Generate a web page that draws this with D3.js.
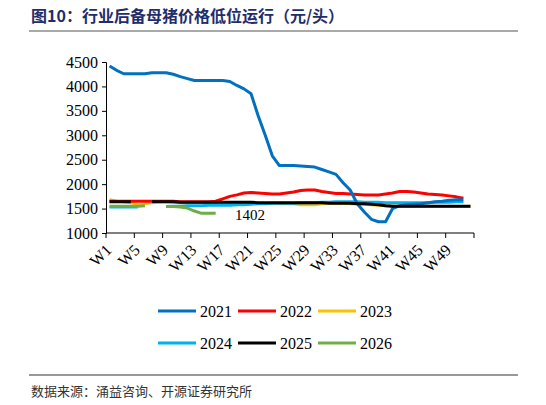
<!DOCTYPE html>
<html><head><meta charset="utf-8">
<script src="https://cdn.jsdelivr.net/npm/d3@7"></script>
<style>body{margin:0;background:#fff}</style></head>
<body><svg id="c" width="546" height="405"></svg>
<script>
const weeks = d3.range(1,53).map(i=>"W"+i);
const tickLabels = ["W1","W5","W9","W13","W17","W21","W25","W29","W33","W37","W41","W45","W49"];
const yTicks = [1000,1500,2000,2500,3000,3500,4000,4500];
const s2021 = [4420,4330,4260,4260,4260,4260,4280,4280,4280,4250,4200,4160,4120,4120,4120,4120,4120,4100,4020,3950,3850,3400,3000,2580,2380,2380,2380,2370,2360,2350,2300,2250,2200,2030,1880,1600,1430,1280,1230,1230,1500,1560,1580,1590,1600,1620,1640,1650,1670,1680,1680,null];
const s2022 = [1650,1650,1650,1650,1650,1650,1650,1650,1650,1650,1640,1640,1640,1640,1640,1650,1700,1750,1780,1820,1830,1820,1810,1800,1800,1820,1840,1870,1880,1880,1850,1830,1810,1810,1800,1790,1780,1780,1780,1800,1820,1850,1850,1840,1820,1800,1790,1780,1760,1740,1710,null];
const s2023 = [1680,1650,1640,1620,1580,1600,1630,1640,1640,1630,1620,1620,1620,1620,1620,1620,1620,1620,1620,1620,1610,1610,1610,1610,1600,1600,1600,1580,1580,1580,1600,1610,1610,1610,1600,1600,1590,1580,1570,1560,1550,1540,1540,1540,1540,1540,1540,1540,1540,1540,1540,1540];
const s2024 = [1530,1530,1530,1530,1530,null,null,null,1540,1550,1550,1560,1560,1560,1570,1570,1570,1570,1580,1580,1590,1600,1600,1610,1610,1610,1610,1620,1620,1620,1630,1630,1640,1640,1640,1640,1630,1630,1630,1620,1620,1620,1620,1620,1620,1620,1630,1630,1630,1640,1640,null];
const s2025 = [1640,1640,1640,1640,null,null,1640,1640,1640,1640,1630,1630,1630,1630,1630,1630,1630,1630,1630,1630,1630,1620,1620,1620,1620,1620,1620,1620,1620,1620,1620,1610,1610,1610,1610,1600,1600,1590,1580,1560,1550,1550,1550,1550,1550,1550,1550,1550,1550,1550,1550,1550];
const s2026 = [1550,1550,1550,1550,1550,1560,null,null,1540,1540,1530,1510,1450,1402,1402,1402,null,null,null,null,null,null,null,null,null,null,null,null,null,null,null,null,null,null,null,null,null,null,null,null,null,null,null,null,null,null,null,null,null,null,null,null];
const seriesNames = ["2021","2022","2023","2024","2025","2026"];
const seriesData = [s2021,s2022,s2023,s2024,s2025,s2026];
const colors = ["#0070C0","#FF0000","#FFC000","#00B0F0","#000000","#70AD47"];
const drawOrder = [2,3,1,0,5,4];

const svg = d3.select("#c");
const serif = "'Liberation Serif','Times New Roman',serif";
const cjk = "'Noto Sans CJK SC',sans-serif";

svg.append("text").attr("x",31).attr("y",22).attr("font-family",cjk).attr("font-weight","bold")
  .attr("font-size",16).attr("fill","#1F2D6B").text("图10：行业后备母猪价格低位运行（元/头）");
svg.append("line").attr("x1",29).attr("x2",518).attr("y1",31).attr("y2",31).attr("stroke","#555").attr("stroke-width",1.2);
svg.append("line").attr("x1",29).attr("x2",518).attr("y1",375).attr("y2",375).attr("stroke","#333").attr("stroke-width",1);
svg.append("text").attr("x",31).attr("y",396).attr("font-family",cjk).attr("font-size",13).attr("fill","#333")
  .text("数据来源：涌益咨询、开源证券研究所");

const x = d3.scaleBand().domain(weeks).range([106,474]);
const y = d3.scaleLinear().domain([1000,4500]).range([233,62]);

const ya = svg.append("g").attr("transform","translate(106,0)")
  .call(d3.axisLeft(y).tickValues(yTicks).tickSize(4).tickFormat(d3.format("d")));
ya.selectAll("text").attr("font-family",serif).attr("font-size",16).attr("fill","#000").attr("dx",-1);
ya.select(".domain").attr("stroke","#000");
ya.selectAll(".tick line").attr("stroke","#000");

const xg = svg.append("g");
xg.append("line").attr("x1",106).attr("x2",474).attr("y1",233).attr("y2",233).attr("stroke","#000");
const bnd = d3.range(0,52,4).map(i=>x(weeks[i]));
bnd.push(x.range()[1]);
xg.selectAll(".bt").data(bnd).join("line").attr("x1",d=>d).attr("x2",d=>d).attr("y1",233).attr("y2",238).attr("stroke","#000");
xg.selectAll(".lb").data(tickLabels).join("text")
  .attr("transform",d=>`translate(${x(d)+x.bandwidth()/2+3},${251}) rotate(-45)`)
  .attr("text-anchor","end").attr("font-family",serif).attr("font-size",16).attr("fill","#000").text(d=>d);

const line = d3.line().defined(d=>d.v!=null).x(d=>x(d.w)+x.bandwidth()/2).y(d=>y(d.v));
drawOrder.forEach(i=>{
  svg.append("path").datum(weeks.map((w,j)=>({w,v:seriesData[i][j]})))
    .attr("d",line).attr("fill","none").attr("stroke",colors[i]).attr("stroke-width",3).attr("stroke-linejoin","round");
});
svg.append("text").attr("x",235).attr("y",220).attr("font-family",serif).attr("font-size",15).text("1402");

const lx=[158,238,318], ly=[311,343];
seriesNames.forEach((n,i)=>{
  const cx=lx[i%3], cy=ly[Math.floor(i/3)];
  svg.append("line").attr("x1",cx).attr("x2",cx+38).attr("y1",cy).attr("y2",cy).attr("stroke",colors[i]).attr("stroke-width",3);
  svg.append("text").attr("x",cx+42).attr("y",cy+6).attr("font-family",serif).attr("font-size",16).text(n);
});
</script></body></html>
